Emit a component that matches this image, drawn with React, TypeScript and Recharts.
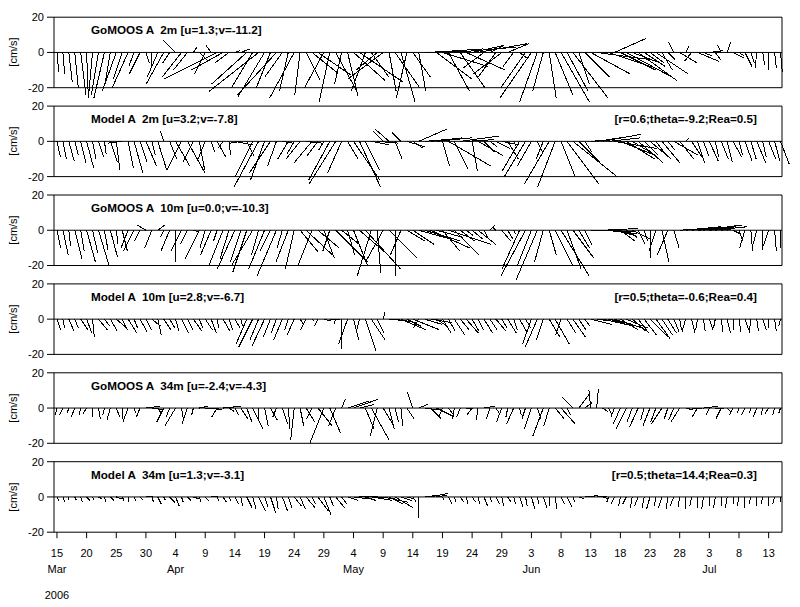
import React from 'react';
import { ComposedChart, XAxis, YAxis, ReferenceLine } from 'recharts';

// ---------- data (daily sticks, day 0 = 15 Mar 2006), u/v in cm/s ----------
const gomoos2mU = [1,1,2,2,3,1,-2,-4,-6,-3, -8,-5,-9,-3,-6,2,0,-6,-10,-4, -7,-11,-8,2,5,-6,-3,-30,-18,-8, 3,5,-20,-12,-28,-15,-8,-22,-10,-5, -14,-3,8,15,19,-11,-6,12,-4,6, 18,25,-8,10,-12,-20,4,14,8,-6, 10,4,24,30,20,26,12,35,14,22, 18,28,-12,8,-10,-16,12,-6,4,-14, -18,-10,-6,4,10,16,12,20,6,14, 22,30,28,24,18,20,26,16,22,12, 8,18,6,4,-3,10,2,-4,12,5, 8,3,-2,2,6,3,4,2,-1,1, 0,1,1];
const gomoos2mV = [-11,-12,-17,-20,-24,-26,-22,-24,-26,-18, -22,-15,-20,-8,-12,-6,-9,-14,-18,-6, 7,-14,-10,3,-5,-12,4,-15,-10,-6, 1,2,-18,-20,-22,-25,-20,-24,-14,-22, -26,-24,-16,-12,-13,-20,-28,-22,-18,-25, -16,-17,-22,-14,-10,-15,-22,-20,-28,-26, -14,-22,1,2,-15,-8,-22,3,-20,-10, 4,5,-9,4,-14,-12,5,-8,-3,-20, -26,-28,-22,-26,-24,-28,-22,-26,-18,-14, -12,-4,0,-8,8,-10,-14,-6,-16,-8, -6,-12,-10,-4,6,-6,4,-5,-5,-2, 1,-4,4,6,-3,-2,-8,-6,-9,-7, -10,-9,-11];

const model2mU = [2,2,3,2,3,4,2,3,1,4, 2,-8,3,5,4,6,2,5,-2,4, 8,-8,10,-6,3,-4,2,5,-3,1, 10,-6,4,-10,-14,-8,-12,-5,6,-6, -4,-8,9,-10,-6,-3,-12,-15,-8,6, 15,12,8,10,12,-6,-8,4,-5,10, 6,16,12,18,20,4,24,8,22,16, 3,14,6,4,8,10,6,2,-10,-12, -8,3,-4,-14,-10,8,18,25,12,4, 14,20,22,18,24,20,16,10,14,8, 12,6,10,4,14,8,2,6,4,3, 5,2,4,3,5,2,4,3,5,2, 4,3,5];
const model2mV = [-9,-10,-11,-8,-12,-15,-10,-9,-7,-12, -16,-1,-15,-18,-12,-14,-8,-16,6,-10, -14,-16,-18,-12,-16,-10,-6,-9,-4,-8, -2,-1,-8,-20,-26,-22,-18,-14,-1,-10, -7,-10,-1,-12,-8,-5,-22,-24,-18,-10, -22,-26,-16,-2,-1,6,7,-10,5,-3, -4,7,1,2,2,-14,-14,-16,3,1, -17,-8,-6,-3,-4,-2,-10,-4,-17,-20, -14,-6,-10,-24,-26,-20,-24,-20,-12,-6, 1,3,4,2,-4,-8,-10,-6,-12,-8, -10,-8,-12,-5,-8,-10,2,-9,-12,-8, -11,-9,-10,-12,-9,-8,-11,-10,-12,-9, -10,-11,-13];

const gomoos10mU = [2,3,1,4,2,5,3,6,2,4, 1,3,-4,-6,-3,-5,-4,4,-2,-5, 0,-6,-4,3,-8,-3,-6,-2,-8,-5, -10,-6,-8,-12,-4,-9,-6,-11,-3,-7, -5,10,15,-8,12,6,-4,18,10,4, 8,14,20,-8,2,-10,16,0,-6,10, 12,18,20,22,15,10,24,14,8,4, 6,10,2,3,-2,5,3,1,-10,-14, -8,-12,-5,4,10,16,8,12,6,4, 18,22,20,16,12,8,6,10,4,2, 0,-4,4,-6,3,14,20,24,16,22, 12,18,8,6,4,2,-3,1,-2,0, -3,1,0];
const gomoos10mV = [-10,-14,-9,-16,-12,-18,-13,-20,-11,-15, -8,-12,-10,-12,-6,3,-10,3,-4,-12, -18,-12,-8,-1,-16,-10,-14,-6,-20,-16, -22,-18,-24,-20,-14,-22,-12,-26,-10,-18, -22,-12,-14,-20,-10,-16,-12,-18,-8,-14, -20,-12,-22,-26,-24,-18,-16,-26,-14,-6, -8,-5,-6,-10,-4,-12,-8,-14,-6,-3, -5,-8,-4,3,2,-6,-5,-2,-22,-26, -20,-28,-18,-14,-20,-26,-22,-16,-10,-8, 0,-1,1,-2,-3,-6,-4,-5,-8,-6, -16,-12,-18,-14,-10,1,2,2,1,3, 1,2,1,3,-2,-6,-10,-12,-8,-11, -9,-12,-10];

const model10mU = [2,1,3,2,4,3,1,5,3,4, 6,3,5,2,4,3,5,2,4,3, 2,4,3,5,2,4,3,1,4,2, 3,1,-6,-8,-5,-7,-4,-3,-5,-2, -4,2,-3,1,-2,4,6,-1,0,-5, 3,-2,6,8,4,1,10,12,14,8, 15,-3,10,12,6,5,4,6,5,7, 4,3,5,4,6,3,5,2,4,3, -5,-7,-4,6,8,-3,5,7,4,3, 12,15,18,14,16,10,12,8,6,7, 10,8,6,5,3,1,-2,2,-1,1, 2,-1,1,2,0,1,2,-1,1,2, 0,1,-1];
const model10mV = [-6,-5,-7,-5,-6,-8,-10,-6,-4,-7, -5,-6,-8,-5,-7,-6,-4,-9,-6,-5, -7,-8,-6,-7,-5,-6,-8,-5,-7,-6, -5,-4,-14,-16,-12,-15,-10,-8,-12,-6, -9,-3,-6,-1,-4,-1,0,-3,-17,-14, -12,-8,-18,-12,-8,4,-1,-2,-6,-4, -6,-5,-3,-2,-4,-8,-7,-9,-6,-8, -7,-6,-8,-6,-7,-5,-8,-6,-7,-5, -14,-16,-12,-10,-14,-9,-8,-10,-6,-4, -3,-2,-4,-3,-5,-6,-5,-7,-8,-9, -10,-11,-9,-8,-7,-6,-7,-8,-6,-7, -6,-5,-7,-8,-6,-7,-6,-8,-7,-6, -5,-7,-4];

const gomoos34mU = [-1,-2,-1,-2,-1,-2,0,1,-1,-2, 2,0,-3,1,-2,8,6,2,-4,-2, -6,1,-3,-1,5,8,6,-3,10,3, 2,4,3,6,0,2,4,-2,3,1, -2,2,5,-3,8,-8,6,-4,2,12, 14,8,5,10,-4,6,3,2,1,4, -3,5,8,6,10,-2,3,-1,-2,4, -3,-1,6,-2,2,-3,-1,-4,1,-2, -4,2,-6,-3,5,8,2,-6,6,4, -1,1,3,2,-2,-4,-6,-3,-5,-2, -4,-3,-6,-2,-3,-5,4,6,-3,8, -2,5,-3,2,-2,-1,-2,-1,-2,-1, -2,-1,-1];
const gomoos34mV = [-4,-4,-3,-5,-4,-3,-5,-6,-4,-7, -5,-6,-8,-3,-5,1,-1,-3,-8,-5, -10,-6,-9,-4,1,0,-1,-5,1,-2, -4,-6,-8,-12,-6,-10,-7,-5,-9,-12, -18,-10,-8,-6,-10,-20,-14,-10,5,4, 5,2,-12,-18,-16,-10,-12,-8,-10,-6, 9,2,-1,-6,-5,-5,-4,-6,-5,0, -4,-7,1,-6,-3,-8,-5,-9,-4,-6, -12,-6,-16,-10,-6,-9,-4,6,8,3, 10,11,-2,-4,-5,-9,-12,-8,-11,-7, -10,-8,-9,-6,-7,-8,-1,0,-5,1, -4,0,-6,-2,-4,-3,-4,-3,-5,-4, -3,-4,-3];

const model34mU = [1,1,0,1,1,2,1,2,1,2, 3,1,0,1,2,4,1,2,1,3, 2,1,2,3,1,2,4,1,2,1, 2,1,3,2,4,2,3,1,3,2, 4,3,5,2,6,4,2,5,3,6, 8,10,6,12,10,14,8,10,6,4, 2,0,8,10,6,1,2,1,2,1, 2,1,2,1,2,1,2,1,2,1, 2,1,2,0,1,2,3,1,3,5, 4,6,3,-1,-2,-1,-2,-1,-2,-1, -2,-1,-2,-1,-2,-1,0,-1,0,-1, 0,-1,0,-1,0,-1,0,-1,0,-1, 0,-1,0];
const model34mV = [-2,-3,-2,-2,-3,-2,-2,-1,-3,-2, -1,-2,-3,-2,-2,0,-3,-4,-2,-3, -5,-3,-2,-1,-3,-2,0,-2,-3,-2, -4,-5,-6,-7,-8,-6,-9,-7,-8,-6, -5,-7,-6,-4,-8,-10,-5,-6,-4,-2, -1,0,-2,-2,-1,-3,-4,-6,-2,-1, -3,-12,1,2,1,-2,-4,-3,-3,-4, -3,-4,-5,-3,-4,-5,-3,-4,-6,-5, -7,-4,-6,-5,-7,-4,-6,-3,-1,0, 1,0,-1,-3,-4,-5,-4,-6,-5,-6, -7,-5,-6,-7,-5,-6,-7,-5,-6,-7, -5,-6,-5,-6,-4,-5,-6,-4,-5,-4, -5,-4,-3];

const panelTitles = [
  'GoMOOS A  2m [u=1.3;v=-11.2]',
  'Model A  2m [u=3.2;v=-7.8]',
  'GoMOOS A  10m [u=0.0;v=-10.3]',
  'Model A  10m [u=2.8;v=-6.7]',
  'GoMOOS A  34m [u=-2.4;v=-4.3]',
  'Model A  34m [u=1.3;v=-3.1]',
];
const panelStats = [
  '',
  '[r=0.6;theta=-9.2;Rea=0.5]',
  '',
  '[r=0.5;theta=-0.6;Rea=0.4]',
  '',
  '[r=0.5;theta=14.4;Rea=0.3]',
];
const panelU = [gomoos2mU, model2mU, gomoos10mU, model10mU, gomoos34mU, model34mU];
const panelV = [gomoos2mV, model2mV, gomoos10mV, model10mV, gomoos34mV, model34mV];

const dayTicks = [0,5,10,15,20,25,30,35,40,45,50,55,60,65,70,75,80,85,90,95,100,105,110,115,120];
const dayLabels = ['15','20','25','30','4','9','14','19','24','29','4','9','14','19','24','29','3','8','13','18','23','28','3','8','13'];
const monthLabels: Record<number, string> = { 0: 'Mar', 4: 'Apr', 10: 'May', 16: 'Jun', 22: 'Jul' };
const yearLabel = '2006';
const yTicks = [-20, 0, 20];

// ---------- layout ----------
const W = 800;
const H = 607;
const PANEL_TOP0 = 17.2;
const PANEL_STEP = 88.9;
const PANEL_H = 70.5;
const PLOT_L = 54;
const PLOT_R = 782;
const X_DOMAIN: [number, number] = [-0.5, 122.25];
const Y_DOMAIN: [number, number] = [-20, 20];
// converts a cm/s east component into days so that sticks keep a true aspect ratio
const U_SCALE = (PANEL_H / 40) / ((PLOT_R - PLOT_L) / (X_DOMAIN[1] - X_DOMAIN[0]));
const FONT = '"Liberation Sans", Arial, Helvetica, sans-serif';
const BOTTOM_TICK = 6;

function DateTick(props: any) {
  const { x, y, payload } = props;
  const i = dayTicks.indexOf(payload.value);
  const style = { fontFamily: FONT, fontSize: 11, fill: '#000' };
  return (
    <g>
      <text x={x} y={y + 19} textAnchor="middle" style={style}>{dayLabels[i]}</text>
      {monthLabels[i] ? (
        <text x={x} y={y + 34.5} textAnchor="middle" style={style}>{monthLabels[i]}</text>
      ) : null}
      {i === 0 ? (
        <text x={x} y={y + 61} textAnchor="middle" style={style}>{yearLabel}</text>
      ) : null}
    </g>
  );
}

function Panel({ idx }: { idx: number }) {
  const top = PANEL_TOP0 + idx * PANEL_STEP;
  const bottom = H - (top + PANEL_H);
  const u = panelU[idx];
  const v = panelV[idx];
  const rows = u.map((uu, i) => ({ day: i, u: uu, v: v[i] }));
  const last = idx === 5;
  return (
    <div style={{ position: 'absolute', left: 0, top: 0 }}>
      <ComposedChart
        width={W}
        height={H}
        data={rows}
        margin={{ top: top - 1, bottom: bottom - 1, left: PLOT_L - 1, right: W - PLOT_R - 1 }}
      >
        <XAxis xAxisId="t" orientation="top" type="number" dataKey="day" domain={X_DOMAIN} allowDataOverflow
          ticks={dayTicks} interval={0} height={1} tick={false} tickSize={9} stroke="#000" />
        <XAxis xAxisId="b" orientation="bottom" type="number" dataKey="day" domain={X_DOMAIN} allowDataOverflow
          ticks={dayTicks} interval={0} height={1} tick={last ? <DateTick /> : false}
          tickSize={last ? BOTTOM_TICK : 9} tickMargin={0} stroke="#000" />
        <YAxis yAxisId="l" orientation="left" type="number" domain={Y_DOMAIN} allowDataOverflow
          ticks={yTicks} interval={0} width={1} tickSize={7} tickMargin={3} stroke="#000"
          tick={{ fill: '#000', fontSize: 11, fontFamily: FONT }} />
        <YAxis yAxisId="r" orientation="right" type="number" domain={Y_DOMAIN} allowDataOverflow
          ticks={yTicks} interval={0} width={1} tickSize={8} tick={false} stroke="#000" />
        <ReferenceLine xAxisId="b" yAxisId="l" y={0} stroke="#000" strokeWidth={1} ifOverflow="visible" />
        {rows.map((r) => (
          <ReferenceLine
            key={r.day}
            xAxisId="b"
            yAxisId="l"
            segment={[{ x: r.day, y: 0 }, { x: r.day + r.u * U_SCALE, y: r.v }]}
            stroke="#000"
            strokeWidth={1}
            shapeRendering="crispEdges"
            ifOverflow="visible"
          />
        ))}
      </ComposedChart>
    </div>
  );
}

export default function App() {
  return (
    <div style={{ position: 'absolute', left: 0, top: 0, width: W, height: H, background: '#fff', overflow: 'hidden' }}>
      {panelTitles.map((_, i) => <Panel key={i} idx={i} />)}
      {panelTitles.map((t, i) => {
        const top = PANEL_TOP0 + i * PANEL_STEP;
        return (
          <React.Fragment key={'t' + i}>
            <div style={{ position: 'absolute', left: 91, top: top + 13 - 7, fontFamily: FONT, fontWeight: 'bold',
              fontSize: 11.7, lineHeight: '14px', whiteSpace: 'pre', color: '#000' }}>{t}</div>
            {panelStats[i] ? (
              <div style={{ position: 'absolute', right: W - 757, top: top + 13 - 7, fontFamily: FONT, fontWeight: 'bold',
                fontSize: 11.7, lineHeight: '14px', whiteSpace: 'pre', color: '#000' }}>{panelStats[i]}</div>
            ) : null}
            <div style={{ position: 'absolute', left: 13, top: top + PANEL_H / 2, transform: 'translate(-50%,-50%) rotate(-90deg)',
              fontFamily: FONT, fontSize: 11, lineHeight: '12px', whiteSpace: 'nowrap', color: '#000' }}>[cm/s]</div>
          </React.Fragment>
        );
      })}
    </div>
  );
}
